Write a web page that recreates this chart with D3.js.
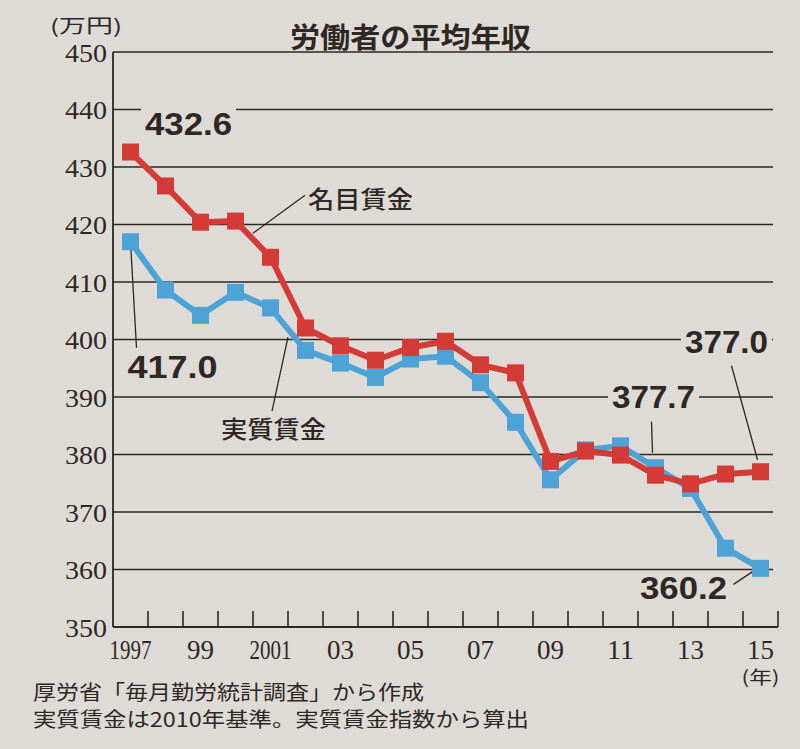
<!DOCTYPE html>
<html><head><meta charset="utf-8">
<script src="https://cdn.jsdelivr.net/npm/d3@7"></script>
<style>
html,body{margin:0;padding:0;background:#dedbd6;}
svg{display:block;}
</style></head>
<body>
<svg id="chart" width="800" height="749"></svg>
<script>
// ---- data ----
const years = [1997,1998,1999,2000,2001,2002,2003,2004,2005,2006,2007,2008,2009,2010,2011,2012,2013,2014,2015];
const nominal = [432.6,426.7,420.4,420.6,414.3,402.0,398.9,396.4,398.6,399.7,395.6,394.2,378.8,380.6,379.9,376.4,374.9,376.6,377.0];
const real    = [417.0,408.6,404.2,408.2,405.5,398.1,395.9,393.4,396.6,397.1,392.5,385.6,375.6,380.8,381.5,377.7,374.1,363.7,360.2];
const yTicks = [350,360,370,380,390,400,410,420,430,440,450];
const xLabelYears = [1997,1999,2001,2003,2005,2007,2009,2011,2013,2015];
const xLabelText  = ["1997","99","2001","03","05","07","09","11","13","15"];
const title = "労働者の平均年収";
const unitLabel = "(万円)";
const yearUnit = "(年)";
const notes = ["厚労省「毎月勤労統計調査」から作成","実質賃金は2010年基準。実質賃金指数から算出"];
const seriesNames = {nominal:"名目賃金", real:"実質賃金"};

// ---- layout ----
const ink = "#2e2724";
const paper = "#dedbd6";
const red = "#d43b37";
const blue = "#4ea3d6";
const L = 113, R = 778, T = 52, B = 627;

const svg = d3.select("#chart");
const x = d3.scaleBand().domain(years).range([L, R]).padding(0);
const bw = x.bandwidth();
const cx = d => x(d) + bw/2;
const y = d3.scaleLinear().domain([350,450]).range([B, T]);

// title + unit
svg.append("text").attr("x", 290).attr("y", 48)
  .attr("font-family","'Noto Sans CJK JP'").attr("font-weight","bold").attr("font-size",28)
  .attr("textLength",241).attr("lengthAdjust","spacingAndGlyphs").attr("fill",ink).text(title);
svg.append("text").attr("x", 50).attr("y", 33)
  .attr("font-family","'Noto Sans CJK JP'").attr("font-size",19)
  .attr("textLength",72).attr("lengthAdjust","spacingAndGlyphs").attr("fill",ink).text(unitLabel);

// grid lines
svg.append("g").selectAll("line").data(yTicks.filter(v => v > 350)).join("line")
  .attr("x1", L).attr("x2", R - 5).attr("y1", d => y(d)).attr("y2", d => y(d))
  .attr("stroke", ink).attr("stroke-width", 1.6);

// y axis labels
const yAxis = d3.axisLeft(y).tickValues(yTicks).tickSize(0).tickPadding(6).tickFormat(d3.format("d"));
const gy = svg.append("g").attr("transform", `translate(${L},0)`).call(yAxis);
gy.select(".domain").remove();
gy.selectAll("text").attr("font-family","'Liberation Serif'").attr("font-size",26)
  .attr("fill",ink).attr("textLength",42).attr("lengthAdjust","spacingAndGlyphs").attr("dy","0.36em");

// axes lines
svg.append("line").attr("x1",L).attr("x2",L).attr("y1",T).attr("y2",B).attr("stroke",ink).attr("stroke-width",1.8);
svg.append("line").attr("x1",L).attr("x2",R).attr("y1",B).attr("y2",B).attr("stroke",ink).attr("stroke-width",1.8);

// x ticks at band boundaries
svg.append("g").selectAll("line").data(years).join("line")
  .attr("x1", d => x(d) + bw).attr("x2", d => x(d) + bw)
  .attr("y1", B).attr("y2", B - 16).attr("stroke", ink).attr("stroke-width", 1.6);

// x labels
svg.append("g").selectAll("text").data(xLabelYears).join("text")
  .attr("x", d => cx(d)).attr("y", 659).attr("text-anchor","middle")
  .attr("font-family","'Liberation Serif'").attr("font-size",28).attr("fill",ink)
  .each(function(d,i){
    const t = xLabelText[i];
    const s = d3.select(this).text(t);
    if (t.length === 4) s.attr("textLength",42).attr("lengthAdjust","spacingAndGlyphs");
    else s.attr("textLength",27).attr("lengthAdjust","spacingAndGlyphs");
  });
svg.append("text").attr("x", cx(2015)).attr("y", 684).attr("text-anchor","middle")
  .attr("font-family","'Noto Sans CJK JP'").attr("font-size",18).attr("fill",ink)
  .attr("textLength",38).attr("lengthAdjust","spacingAndGlyphs").text(yearUnit);

// notes
notes.forEach((n,i) => {
  svg.append("text").attr("x", 33).attr("y", 700 + i*27)
    .attr("font-family","'Noto Sans CJK JP'").attr("font-size",20).attr("fill",ink)
    .attr("textLength", i===0 ? 391 : 496).attr("lengthAdjust","spacingAndGlyphs").text(n);
});

// value annotations (anchored to data points)
const idx = yr => years.indexOf(yr);
const annos = [
  {s:nominal, yr:1997, dx:58,  dy:-17, w:87, bg:true,  leader:null},
  {s:real,    yr:1997, dx:42,  dy:136, w:90, bg:false, leader:{from:[6,106], to:[0,0]}},
  {s:real,    yr:2012, dx:-2,  dy:-60, w:83, bg:true,  leader:{from:[-4,-46], to:[-3,-15]}},
  {s:nominal, yr:2015, dx:-34, dy:-119,w:83, bg:true,  leader:{from:[-29,-106],to:[-3,-12]}},
  {s:real,    yr:2015, dx:-77, dy:31,  w:87, bg:false, leader:{from:[-27,16], to:[-6,2]}}
];
const labelLayer = svg.append("g");
annos.forEach(a => {
  const px = cx(a.yr), py = y(a.s[idx(a.yr)]);
  const tx = px + a.dx, ty = py + a.dy;
  if (a.bg) {
    labelLayer.append("rect").attr("x", tx - a.w/2 - 4).attr("y", ty - 30)
      .attr("width", a.w + 8).attr("height", 32).attr("fill", paper);
  }
  if (a.leader) {
    svg.append("line").attr("x1", px + a.leader.from[0]).attr("y1", py + a.leader.from[1])
      .attr("x2", px + a.leader.to[0]).attr("y2", py + a.leader.to[1])
      .attr("stroke", ink).attr("stroke-width", 1.3);
  }
  a.tx = tx; a.ty = ty; a.v = a.s[idx(a.yr)];
});

// series name leaders
const nameLeaders = [
  {s:nominal, y0:2000, y1:2001, t:0.5, dx:52, dy:-44, label:seriesNames.nominal},
  {s:real,    y0:2001, y1:2002, t:0.5, dx:-16, dy:82, label:seriesNames.real}
];
nameLeaders.forEach(n => {
  const i0 = idx(n.y0), i1 = idx(n.y1);
  const px = cx(n.y0) + (cx(n.y1)-cx(n.y0))*n.t;
  const py = y(n.s[i0]) + (y(n.s[i1]) - y(n.s[i0]))*n.t;
  svg.append("line").attr("x1", px).attr("y1", py + (n.s===nominal ? -6 : 8))
    .attr("x2", px + n.dx).attr("y2", py + n.dy).attr("stroke", ink).attr("stroke-width", 1.3);
  n.px = px; n.py = py;
});

// series lines + markers
const line = d3.line().x((d,i) => cx(years[i])).y(d => y(d));
function drawSeries(vals, color) {
  svg.append("path").datum(vals).attr("d", line).attr("fill","none")
    .attr("stroke", color).attr("stroke-width", 6).attr("stroke-linejoin","round");
  svg.append("g").selectAll("rect").data(vals).join("rect")
    .attr("x", (d,i) => cx(years[i]) - 8.5).attr("y", d => y(d) - 8.5)
    .attr("width", 17).attr("height", 17).attr("fill", color);
}
drawSeries(real, blue);
drawSeries(nominal, red);

// annotation texts
annos.forEach(a => {
  svg.append("text").attr("x", a.tx).attr("y", a.ty).attr("text-anchor","middle")
    .attr("font-family","'Liberation Sans'").attr("font-weight","bold").attr("font-size",31)
    .attr("fill", ink).attr("textLength", a.w).attr("lengthAdjust","spacingAndGlyphs")
    .text(a.v.toFixed(1));
});
nameLeaders.forEach(n => {
  const isNom = n.s === nominal;
  svg.append("text")
    .attr("x", isNom ? n.px + n.dx + 3 : n.px + n.dx - 51)
    .attr("y", isNom ? n.py + n.dy + 13 : n.py + n.dy + 27)
    .attr("font-family","'Noto Sans CJK JP'").attr("font-weight", 500).attr("font-size",24)
    .attr("fill", ink).attr("textLength",105).attr("lengthAdjust","spacingAndGlyphs").text(n.label);
});
</script>
</body></html>
